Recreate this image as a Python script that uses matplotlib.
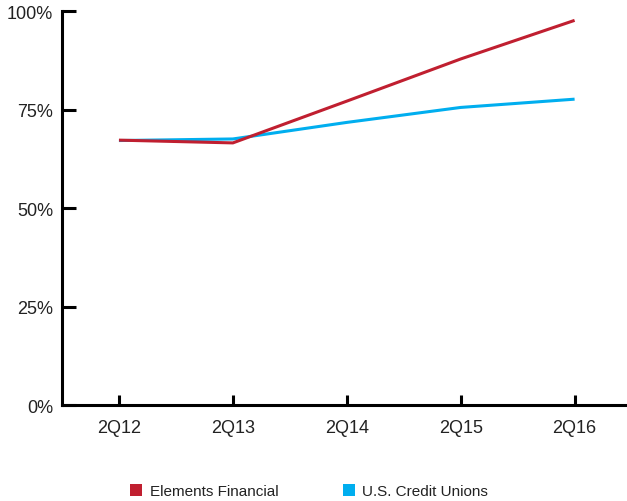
import matplotlib
matplotlib.use("Agg")
import matplotlib.pyplot as plt
from matplotlib.patches import Patch

plt.rcParams['font.family'] = ['Liberation Sans Narrow', 'Liberation Sans', 'DejaVu Sans']

quarters = ["2Q12", "2Q13", "2Q14", "2Q15", "2Q16"]
elements_financial = [67.3, 66.6, 77.2, 87.9, 97.7]
us_credit_unions = [67.2, 67.6, 71.8, 75.6, 77.7]
y_ticks = [0, 25, 50, 75, 100]
y_tick_labels = ["0%", "25%", "50%", "75%", "100%"]

red = "#C01F30"
blue = "#00AEEF"

fig = plt.figure(figsize=(6.27, 5.02), dpi=100)
ax = fig.add_axes([0.0989, 0.1906, 0.9011, 0.7849])

x = list(range(len(quarters)))
ax.plot(x, us_credit_unions, color=blue, lw=2.2, solid_capstyle='butt')
ax.plot(x, elements_financial, color=red, lw=2.2, solid_capstyle='butt')

ax.set_xlim(-0.5, 4.46)
ax.set_ylim(0, 100)
ax.set_xticks(x)
ax.set_xticklabels(quarters)
ax.set_yticks(y_ticks)
ax.set_yticklabels(y_tick_labels)

for s in ['top', 'right']:
    ax.spines[s].set_visible(False)
for s in ['left', 'bottom']:
    ax.spines[s].set_linewidth(2.2)
    ax.spines[s].set_color('black')

ax.tick_params(axis='y', direction='in', length=10, width=2.2, pad=6.5,
               labelsize=13, colors='black')
ax.tick_params(axis='x', direction='in', length=7, width=2.2, pad=10,
               labelsize=13, colors='black')
for lbl in ax.get_yticklabels():
    lbl.set_color('#222222')
for lbl in ax.get_xticklabels():
    lbl.set_color('#222222')

handles = [Patch(facecolor=red, edgecolor='none', label="Elements Financial"),
           Patch(facecolor=blue, edgecolor='none', label="U.S. Credit Unions")]
fig.legend(handles=handles, loc='center', bbox_to_anchor=(0.493, 0.02),
           ncol=2, frameon=False, fontsize=11, handlelength=0.8,
           handleheight=0.8, handletextpad=0.5, columnspacing=4.2,
           labelcolor='#222222')

fig.savefig("out.png", dpi=100)
